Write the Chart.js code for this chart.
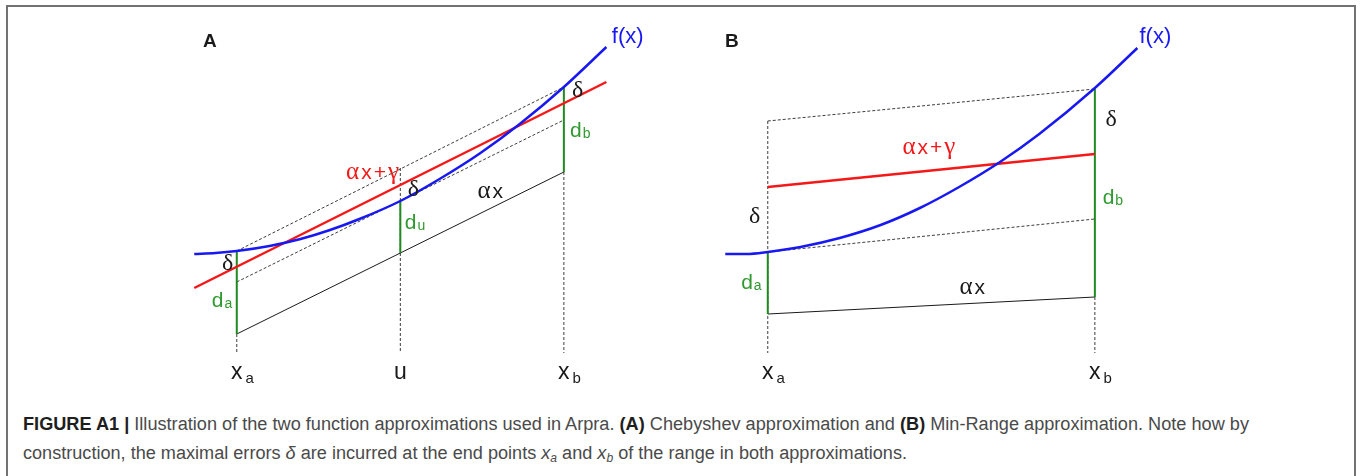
<!DOCTYPE html>
<html>
<head>
<meta charset="utf-8">
<script src="https://cdn.jsdelivr.net/npm/chart.js@4"></script>
<style>
  html, body { margin: 0; padding: 0; background: #fff; }
  body { width: 1360px; height: 476px; position: relative; overflow: hidden;
         font-family: "Liberation Sans", Arial, sans-serif; }
  #frame { position: absolute; left: 6px; top: 5px; width: 1350px; height: 540px;
           border: 2px solid #727272; box-sizing: border-box; }
  .panel { position: absolute; top: 20px; width: 507px; height: 380px; }
  #wrapA { left: 155px; }
  #wrapB { left: 686px; }
  .cap { position: absolute; left: 23px; white-space: nowrap; font-size: 18px;
         line-height: 28px; color: #4a4a4a; transform-origin: 0 0; }
  .cap b { color: #1e1e1e; }
  .cap sub { font-size: 12px; vertical-align: -3px; line-height: 0; }
  #cap1 { top: 410px; }
  #cap2 { top: 439px; }
</style>
</head>
<body>
<div id="frame"></div>
<div class="panel" id="wrapA"><canvas id="chartA" width="507" height="380"></canvas></div>
<div class="panel" id="wrapB"><canvas id="chartB" width="507" height="380"></canvas></div>
<div class="cap" id="cap1"><b>FIGURE A1 |</b> Illustration of the two function approximations used in Arpra. <b>(A)</b> Chebyshev approximation and <b>(B)</b> Min-Range approximation. Note how by</div>
<div class="cap" id="cap2">construction, the maximal errors <i>δ</i> are incurred at the end points <i>x<sub>a</sub></i> and <i>x<sub>b</sub></i> of the range in both approximations.</div>

<script>
// ---- Panel A: Chebyshev approximation ----
const A_CURVE_X = [0.74, 0.87, 1.00, 1.20, 1.39, 1.57, 1.75, 2.00, 2.24, 2.49, 2.73, 3.00, 3.26];
const A_CURVE_Y = [1.46, 1.47, 1.49, 1.54, 1.61, 1.70, 1.81, 1.99, 2.21, 2.47, 2.76, 3.13, 3.53];
const A_FIT_X = [0.74, 3.26];          // αx+γ drawn past both ends
const A_FIT_Y = [1.12, 3.18];
const A_ENDS = [1, 3];                 // x_a, x_b
const A_SECANT_Y = [1.49, 3.13];       // through f(x_a), f(x_b)
const A_TANGENT_Y = [1.18, 2.80];      // parallel, touching f at u
const A_SLOPE_Y = [0.66, 2.28];        // αx
const A_MARKS_X = [1, 2, 3];           // x_a, u, x_b
const A_D_TOP = [1.49, 1.99, 3.13];
const A_D_BOTTOM = [0.66, 1.47, 2.28];
const A_GUIDE_TOP = [0.66, 2.32, 2.28];
const A_TICK_MAIN = ['x', 'u', 'x'];
const A_TICK_SUB = ['a', '', 'b'];

// ---- Panel B: Min-Range approximation ----
const B_CURVE_X = [0.74, 0.87, 1.00, 1.20, 1.44, 1.69, 1.93, 2.17, 2.42, 2.66, 3.00, 3.26];
const B_CURVE_Y = [1.46, 1.46, 1.48, 1.53, 1.62, 1.75, 1.92, 2.13, 2.38, 2.66, 3.12, 3.52];
const B_ENDS = [1, 3];
const B_FIT_Y = [2.13, 2.46];
const B_UPPER_Y = [2.79, 3.11];
const B_LOWER_Y = [1.48, 1.81];
const B_SLOPE_Y = [0.86, 1.03];
const B_D_TOP = [1.48, 3.12];
const B_D_BOTTOM = [0.86, 1.03];
const B_GUIDE_TOP = [2.79, 1.03];
const B_TICK_MAIN = ['x', 'x'];
const B_TICK_SUB = ['a', 'b'];

const GUIDE_BOTTOM = 0.47;
const TICK_Y = 0.27;

const BLUE = '#1818f2', RED = '#f41818', GREEN = '#1f8a1f', GREEN_TXT = '#2f9a2f';
const INK = '#1a1a1a', DASH = '#3c3c3c';
const SANS = '"Liberation Sans", Arial, sans-serif';
const SERIF = '"Liberation Serif", "Times New Roman", serif';

function line(xs, ys, color, width, dash, order, smooth) {
  return {
    data: xs.map((v, i) => ({ x: v, y: ys[i] })),
    showLine: true, borderColor: color, borderWidth: width, borderDash: dash || [],
    pointRadius: 0, pointHoverRadius: 0, fill: false, clip: false, order: order,
    tension: 0, cubicInterpolationMode: smooth ? 'monotone' : 'default',
    borderCapStyle: 'butt'
  };
}

// text pieces
const s = (t, size) => ({ t, font: size + 'px ' + SANS, dy: 0 });
const g = (t, size) => ({ t, font: size + 'px ' + SERIF, dy: 0 });
const sb = (t, size, dy) => ({ t, font: size + 'px ' + SANS, dy: dy });
const bold = (t, size) => ({ t, font: 'bold ' + size + 'px ' + SANS, dy: 0 });

function drawRich(ctx, px, py, item) {
  const gap = item.gap || 0;
  const widths = item.parts.map(p => { ctx.font = p.font; return ctx.measureText(p.t).width; });
  const total = widths.reduce((a, b) => a + b, 0) + gap * (item.parts.length - 1);
  let x = item.centerFirst ? px - widths[0] / 2 : px - total / 2;
  const base = py + item.base;
  ctx.fillStyle = item.color;
  ctx.textBaseline = 'alphabetic';
  ctx.textAlign = 'left';
  item.parts.forEach((p, i) => {
    ctx.font = p.font;
    ctx.fillText(p.t, x, base + p.dy);
    x += widths[i] + gap;
  });
}

function labelPlugin(items) {
  return {
    id: 'figLabels',
    afterDatasetsDraw(chart) {
      const { ctx, scales } = chart;
      ctx.save();
      items.forEach(it => drawRich(ctx, scales.x.getPixelForValue(it.x), scales.y.getPixelForValue(it.y), it));
      ctx.restore();
    }
  };
}

function tickItems(xs, mains, subs) {
  return xs.map((x, i) => ({
    x: x, y: TICK_Y, color: INK, base: 6, gap: 3, centerFirst: true,
    parts: subs[i] ? [s(mains[i], 23), sb(subs[i], 15, 4)] : [s(mains[i], 23)]
  }));
}

function fitLabel(x, y, color) {
  return { x, y, color, base: 6, gap: 2, parts: [g('α', 25), s('x', 21), s('+', 21), g('γ', 25)] };
}

const labelsA = [
  { x: 0.835, y: 3.60, color: INK, base: 7, parts: [bold('A', 19)] },
  { x: 3.39, y: 3.65, color: BLUE, base: 8, parts: [s('f(x)', 22)] },
  { x: 0.945, y: 1.38, color: INK, base: 8, parts: [g('δ', 24)] },
  { x: 2.08, y: 2.12, color: INK, base: 8, parts: [g('δ', 24)] },
  { x: 3.085, y: 3.11, color: INK, base: 8, parts: [g('δ', 24)] },
  { x: 0.91, y: 1.00, color: GREEN_TXT, base: 7, gap: 1, parts: [s('d', 21), sb('a', 14, 1)] },
  { x: 2.09, y: 1.78, color: GREEN_TXT, base: 7, gap: 1, parts: [s('d', 21), sb('u', 14, 1)] },
  { x: 3.10, y: 2.70, color: GREEN_TXT, base: 7, gap: 1, parts: [s('d', 21), sb('b', 14, 1)] },
  fitLabel(1.83, 2.27, RED),
  { x: 2.55, y: 2.08, color: INK, base: 6, gap: 2, parts: [g('α', 25), s('x', 21)] }
].concat(tickItems(A_MARKS_X, A_TICK_MAIN, A_TICK_SUB));

const labelsB = [
  { x: 0.78, y: 3.60, color: INK, base: 7, parts: [bold('B', 19)] },
  { x: 3.37, y: 3.65, color: BLUE, base: 8, parts: [s('f(x)', 22)] },
  { x: 3.10, y: 2.82, color: INK, base: 8, parts: [g('δ', 24)] },
  { x: 0.92, y: 1.85, color: INK, base: 8, parts: [g('δ', 24)] },
  { x: 0.90, y: 1.18, color: GREEN_TXT, base: 7, gap: 1, parts: [s('d', 21), sb('a', 14, 1)] },
  { x: 3.11, y: 2.03, color: GREEN_TXT, base: 7, gap: 1, parts: [s('d', 21), sb('b', 14, 1)] },
  fitLabel(1.985, 2.52, RED),
  { x: 2.25, y: 1.12, color: INK, base: 6, gap: 2, parts: [g('α', 25), s('x', 21)] }
].concat(tickItems(B_ENDS, B_TICK_MAIN, B_TICK_SUB));

const datasetsA = [
  line(A_CURVE_X, A_CURVE_Y, BLUE, 2.5, null, 0, true),
  line(A_FIT_X, A_FIT_Y, RED, 2.5, null, 1),
  ...A_MARKS_X.map((x, i) => line([x, x], [A_D_TOP[i], A_D_BOTTOM[i]], GREEN, 2, null, 2)),
  line(A_ENDS, A_SLOPE_Y, INK, 1, null, 3),
  line(A_ENDS, A_SECANT_Y, DASH, 1, [3, 2], 4),
  line(A_ENDS, A_TANGENT_Y, DASH, 1, [3, 2], 4),
  ...A_MARKS_X.map((x, i) => line([x, x], [A_GUIDE_TOP[i], GUIDE_BOTTOM], DASH, 1, [3, 2], 5))
];

const datasetsB = [
  line(B_CURVE_X, B_CURVE_Y, BLUE, 2.5, null, 0, true),
  line(B_ENDS, B_FIT_Y, RED, 2.5, null, 1),
  ...B_ENDS.map((x, i) => line([x, x], [B_D_TOP[i], B_D_BOTTOM[i]], GREEN, 2, null, 2)),
  line(B_ENDS, B_SLOPE_Y, INK, 1, null, 3),
  line(B_ENDS, B_UPPER_Y, DASH, 1, [3, 2], 4),
  line(B_ENDS, B_LOWER_Y, DASH, 1, [3, 2], 4),
  ...B_ENDS.map((x, i) => line([x, x], [B_GUIDE_TOP[i], GUIDE_BOTTOM], DASH, 1, [3, 2], 5))
];

function makeChart(id, datasets, labels) {
  return new Chart(document.getElementById(id), {
    type: 'scatter',
    data: { datasets },
    options: {
      responsive: false, animation: false, devicePixelRatio: 1, events: [],
      layout: { padding: 0 },
      scales: {
        x: { type: 'linear', min: 0.5, max: 3.6, display: false },
        y: { type: 'linear', min: 0, max: 3.8, display: false }
      },
      plugins: { legend: { display: false }, tooltip: { enabled: false } }
    },
    plugins: [labelPlugin(labels)]
  });
}

makeChart('chartA', datasetsA, labelsA);
makeChart('chartB', datasetsB, labelsB);

// caption lines are set to the column's measured widths
function fitWidth(el, w) {
  el.style.transform = 'none';
  const r = el.getBoundingClientRect().width;
  el.style.transform = 'scaleX(' + (w / r) + ')';
}
fitWidth(document.getElementById('cap1'), 1226);
fitWidth(document.getElementById('cap2'), 884);
</script>
</body>
</html>
